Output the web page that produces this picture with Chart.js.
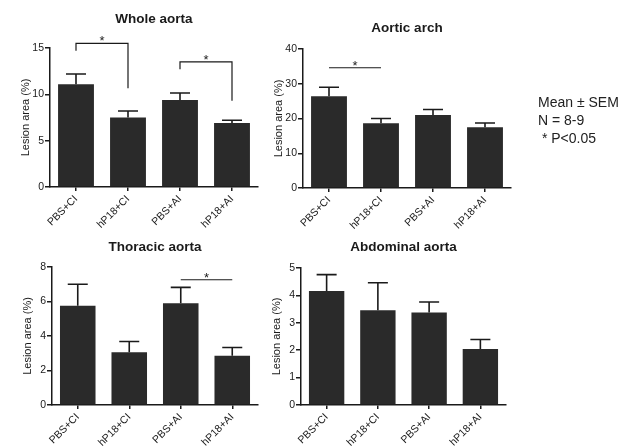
<!DOCTYPE html>
<html>
<head>
<meta charset="utf-8">
<script src="https://cdn.jsdelivr.net/npm/chart.js@4.4.1/dist/chart.umd.min.js"></script>
<style>
  html, body { margin: 0; padding: 0; background: #fff; }
  #wrap { position: relative; width: 631px; height: 446px; overflow: hidden; }
  #wrap canvas { position: absolute; left: 0; top: 0; }
  #note {
    position: absolute; left: 538px; top: 93px;
    font: 14px "Liberation Sans", Arial, sans-serif; line-height: 18px; color: #222;
  }
</style>
</head>
<body>
<div id="wrap">
  <canvas id="cWhole" width="631" height="446"></canvas>
  <canvas id="cArch" width="631" height="446"></canvas>
  <canvas id="cThor" width="631" height="446"></canvas>
  <canvas id="cAbd" width="631" height="446"></canvas>
  <div id="note">Mean ± SEM<br>N = 8-9<br>&nbsp;* P&lt;0.05</div>
</div>
<script>
// groups on the x axis
const groups = ['PBS+CI', 'hP18+CI', 'PBS+AI', 'hP18+AI'];

// lesion area (%) mean and SEM per panel
const wholeMean = [11.1, 7.5, 9.4, 6.9];
const wholeSem  = [1.1, 0.7, 0.75, 0.3];
const archMean  = [26.4, 18.6, 21.0, 17.5];
const archSem   = [2.6, 1.4, 1.6, 1.2];
const thorMean  = [5.75, 3.06, 5.9, 2.85];
const thorSem   = [1.25, 0.62, 0.92, 0.48];
const abdMean   = [4.16, 3.46, 3.38, 2.04];
const abdSem    = [0.6, 1.0, 0.38, 0.35];

// y tick labels
const wholeTicks = [0, 5, 10, 15];
const archTicks  = [0, 10, 20, 30, 40];
const thorTicks  = [0, 2, 4, 6, 8];
const abdTicks   = [0, 1, 2, 3, 4, 5];

// significance marks: [from, to, level, leftDrop, rightDrop] (drops only for brackets)
const wholeSig = [[0, 1, 15.5, 14.7, 10.65], [2, 3, 13.5, 12.7, 9.3]];
const archSig  = [[0, 1, 34.6]];
const thorSig  = [[2, 3, 7.26]];
const abdSig   = [];

const INK = '#1a1a1a';
const BAR = '#2a2a2a';
const FONT = '"Liberation Sans", Arial, sans-serif';

// error bars, significance brackets, titles
const panelDecor = {
    id: 'panelDecor',
    afterDatasetsDraw(chart, args, opts) {
        const { ctx, chartArea, scales: { y } } = chart;
        const bars = chart.getDatasetMeta(0).data;
        ctx.save();
        ctx.strokeStyle = INK;
        ctx.lineWidth = 1.6;

        opts.sem.forEach((s, i) => {
            const b = bars[i];
            const top = y.getPixelForValue(opts.mean[i] + s);
            ctx.beginPath();
            ctx.moveTo(b.x, b.y);
            ctx.lineTo(b.x, top);
            ctx.moveTo(b.x - 10, top);
            ctx.lineTo(b.x + 10, top);
            ctx.stroke();
        });

        ctx.lineWidth = 1.2;
        ctx.fillStyle = INK;
        ctx.font = '13px ' + FONT;
        ctx.textAlign = 'center';
        ctx.textBaseline = 'alphabetic';
        opts.sig.forEach(m => {
            const x1 = bars[m[0]].x, x2 = bars[m[1]].x;
            const ly = y.getPixelForValue(m[2]);
            ctx.beginPath();
            if (m.length > 3) {
                ctx.moveTo(x1, y.getPixelForValue(m[3]));
                ctx.lineTo(x1, ly);
                ctx.lineTo(x2, ly);
                ctx.lineTo(x2, y.getPixelForValue(m[4]));
            } else {
                ctx.moveTo(x1, ly);
                ctx.lineTo(x2, ly);
            }
            ctx.stroke();
            ctx.fillText('*', (x1 + x2) / 2, ly + 2);
        });

        // panel title
        ctx.font = 'bold 13.5px ' + FONT;
        ctx.textBaseline = 'middle';
        ctx.fillText(opts.title, (chartArea.left + chartArea.right) / 2, opts.titleY);

        // y axis title
        ctx.font = '11px ' + FONT;
        ctx.translate(chartArea.left - 24, (chartArea.top + chartArea.bottom) / 2);
        ctx.rotate(-Math.PI / 2);
        ctx.fillText('Lesion area (%)', 0, 0);
        ctx.restore();
    }
};

function makePanel(id, mean, sem, ticks, sig, title, titleY, area) {
    const yW = 30, xH = 50;
    const [L, R, T, B] = area;
    return new Chart(document.getElementById(id), {
        type: 'bar',
        data: {
            labels: groups,
            datasets: [{
                data: mean,
                backgroundColor: BAR,
                borderWidth: 0,
                barPercentage: 0.69,
                categoryPercentage: 1
            }]
        },
        options: {
            responsive: false,
            animation: false,
            layout: {
                padding: { left: L - yW, right: 631 - R, top: T, bottom: 446 - B - xH }
            },
            plugins: {
                legend: { display: false },
                tooltip: { enabled: false },
                panelDecor: { mean: mean, sem: sem, sig: sig, title: title, titleY: titleY }
            },
            scales: {
                x: {
                    afterFit: s => { s.height = xH; },
                    grid: { offset: false, drawOnChartArea: false, tickLength: 4, color: INK, lineWidth: 1.5 },
                    border: { color: INK, width: 1.5 },
                    ticks: {
                        maxRotation: 45, minRotation: 45, autoSkip: false, padding: 2,
                        color: INK, font: { family: FONT, size: 10.5 }
                    }
                },
                y: {
                    min: ticks[0],
                    max: ticks[ticks.length - 1],
                    afterFit: s => { s.width = yW; },
                    grid: { drawOnChartArea: false, tickLength: 5, color: INK, lineWidth: 1.5 },
                    border: { color: INK, width: 1.5 },
                    ticks: {
                        stepSize: ticks[1] - ticks[0], padding: 1,
                        color: INK, font: { family: FONT, size: 10.5 }
                    }
                }
            }
        },
        plugins: [panelDecor]
    });
}

makePanel('cWhole', wholeMean, wholeSem, wholeTicks, wholeSig, 'Whole aorta', 19, [50, 258, 48, 187]);
makePanel('cArch', archMean, archSem, archTicks, archSig, 'Aortic arch', 28, [303, 511, 49, 188]);
makePanel('cThor', thorMean, thorSem, thorTicks, thorSig, 'Thoracic aorta', 247, [52, 258, 267, 405]);
makePanel('cAbd', abdMean, abdSem, abdTicks, abdSig, 'Abdominal aorta', 247, [301, 506, 268, 405]);
</script>
</body>
</html>
